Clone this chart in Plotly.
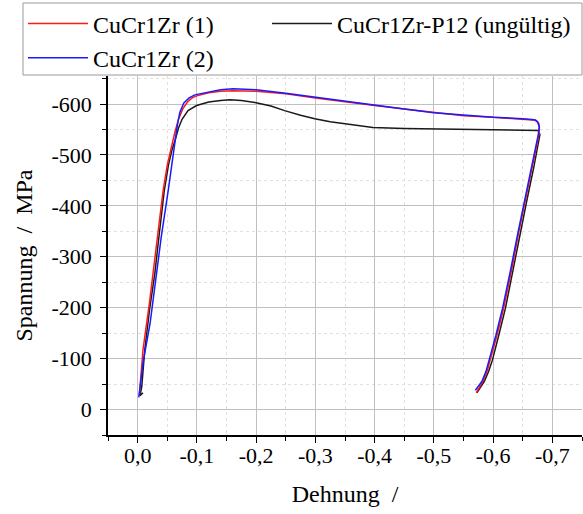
import plotly.graph_objects as go

# ---- data (strain, stress) ----
red_x = [-0.003, -0.009, -0.020, -0.029, -0.036, -0.043, -0.050, -0.057, -0.063, -0.069, -0.076,
         -0.084, -0.092, -0.100, -0.120, -0.140, -0.160, -0.200, -0.250, -0.300, -0.350, -0.400,
         -0.450, -0.500, -0.550, -0.600, -0.650, -0.672, -0.677, -0.678, -0.6772,
         -0.6655, -0.6538, -0.6427, -0.6312, -0.6178, -0.6063, -0.5958, -0.5898, -0.5828, -0.5715]
red_y = [-28, -117, -210, -300, -370, -430, -480, -517, -545, -570, -590,
         -604, -612, -616, -622, -625, -626, -625, -620, -612, -604, -597,
         -590, -583, -577, -574, -570, -568, -562, -555, -540,
         -475, -410, -345, -274, -199, -145, -97, -75, -55, -33]

blue_x = [-0.002, -0.009, -0.021, -0.030, -0.040, -0.0516, -0.058, -0.063, -0.067, -0.0713, -0.078,
          -0.087, -0.0966, -0.120, -0.140, -0.161, -0.200, -0.250, -0.300, -0.350, -0.400, -0.450,
          -0.500, -0.550, -0.600, -0.650, -0.670, -0.675, -0.678, -0.6762,
          -0.6643, -0.6525, -0.6415, -0.6295, -0.6160, -0.6045, -0.5940, -0.5880, -0.5810, -0.5700]
blue_y = [-24, -91, -169, -250, -340, -430, -490, -525, -558, -584, -602,
          -612, -618, -624, -628, -630, -628, -621, -613, -605, -597, -590,
          -583, -578, -574, -571, -569, -565, -555, -540,
          -475, -410, -345, -274, -199, -145, -97, -75, -55, -38]

black_x = [-0.009, -0.004, -0.007, -0.012, -0.020, -0.029, -0.037, -0.045, -0.052, -0.058, -0.063,
           -0.069, -0.075, -0.085, -0.0995, -0.120, -0.140, -0.156, -0.175, -0.198, -0.225, -0.248,
           -0.275, -0.299, -0.325, -0.350, -0.375, -0.397, -0.450, -0.500, -0.550, -0.600, -0.650,
           -0.676, -0.679, -0.678,
           -0.6685, -0.6568, -0.6457, -0.6342, -0.6208, -0.6093, -0.5988, -0.5925, -0.5850, -0.5725]
black_y = [-33, -27, -45, -117, -195, -267, -350, -430, -480, -510, -528,
           -553, -570, -587, -597, -604, -607, -608.6, -607, -603, -596, -587,
           -578, -571, -565, -561, -557, -554, -552, -551, -550, -549.5, -549,
           -548, -540, -533,
           -475, -410, -345, -274, -199, -145, -97, -75, -55, -33]

names = ["CuCr1Zr (1)", "CuCr1Zr (2)", "CuCr1Zr-P12 (ungültig)"]

x_tickvals = [0.0, -0.1, -0.2, -0.3, -0.4, -0.5, -0.6, -0.7]
x_ticktext = ["0,0", "-0,1", "-0,2", "-0,3", "-0,4", "-0,5", "-0,6", "-0,7"]
y_tickvals = [0, -100, -200, -300, -400, -500, -600]
y_ticktext = ["0", "-100", "-200", "-300", "-400", "-500", "-600"]

FONT = "Liberation Serif, Times New Roman, serif"

fig = go.Figure()
fig.add_trace(go.Scatter(x=black_x, y=black_y, mode="lines", name=names[2],
                         line=dict(color="#1a1a1a", width=1.5), legend="legend2"))
fig.add_trace(go.Scatter(x=red_x, y=red_y, mode="lines", name=names[0],
                         line=dict(color="#ff1a1a", width=1.5), legendrank=1))
fig.add_trace(go.Scatter(x=blue_x, y=blue_y, mode="lines", name=names[1],
                         line=dict(color="#1a1aff", width=1.5), legendrank=2))

grid_major = "#c0c0c0"
grid_minor = "#e0e0e0"

# plot area in px: x 108..582, y 76..435
PL, PR, PT, PB = 108, 582, 76, 435
def px_x(p):
    return (p - PL) / (PR - PL)
def px_y(p):
    return (PB - p) / (PB - PT)

legend_common = dict(
    orientation="v", xanchor="left", yanchor="top",
    font=dict(family=FONT, size=24, color="black"),
    borderwidth=0, bgcolor="rgba(0,0,0,0)", itemwidth=60,
)

fig.update_layout(
    width=583, height=514,
    margin=dict(l=PL, r=583 - PR, t=PT, b=514 - PB, autoexpand=False),
    paper_bgcolor="white", plot_bgcolor="white",
    font=dict(family=FONT, size=22, color="black"),
    showlegend=True,
    legend=dict(x=px_x(23), y=px_y(1.5), **legend_common),
    legend2=dict(x=px_x(267), y=px_y(1.5), **legend_common),
    shapes=[dict(type="rect", xref="paper", yref="paper",
                 x0=px_x(23), x1=px_x(582), y0=px_y(75), y1=px_y(3),
                 line=dict(color="#9a9a9a", width=1), fillcolor="rgba(0,0,0,0)",
                 layer="above")],
    xaxis=dict(
        range=[0.05, -0.75], autorange=False,
        tickmode="array", tickvals=x_tickvals, ticktext=x_ticktext,
        ticks="outside", ticklen=6, tickwidth=1.3, tickcolor="black",
        showline=True, linecolor="black", linewidth=1.5,
        showgrid=True, gridcolor=grid_major, gridwidth=1.2,
        zeroline=False,
        minor=dict(tickmode="linear", tick0=0, dtick=0.05, ticks="outside", ticklen=4,
                   tickcolor="black", tickwidth=1.2, showgrid=True,
                   gridcolor=grid_minor, griddash="dot", gridwidth=1),
        tickfont=dict(family=FONT, size=22),
        ticklabelstandoff=-6,
        title=dict(text="Dehnung\u00a0\u00a0/", font=dict(family=FONT, size=24), standoff=18),
    ),
    yaxis=dict(
        range=[50, -655], autorange=False,
        tickmode="array", tickvals=y_tickvals, ticktext=y_ticktext,
        ticks="outside", ticklen=6, tickwidth=1.3, tickcolor="black",
        showline=True, linecolor="black", linewidth=1.5,
        showgrid=True, gridcolor=grid_major, gridwidth=1.2,
        zeroline=False,
        minor=dict(tickmode="linear", tick0=0, dtick=50, ticks="outside", ticklen=4,
                   tickcolor="black", tickwidth=1.2, showgrid=True,
                   gridcolor=grid_minor, griddash="dot", gridwidth=1),
        tickfont=dict(family=FONT, size=22),
        ticklabelstandoff=4,
        title=dict(text="\u00a0" * 6 + "Spannung\u00a0\u00a0/\u00a0\u00a0MPa",
                   font=dict(family=FONT, size=24), standoff=12),
    ),
)

fig.write_html("out.html")
